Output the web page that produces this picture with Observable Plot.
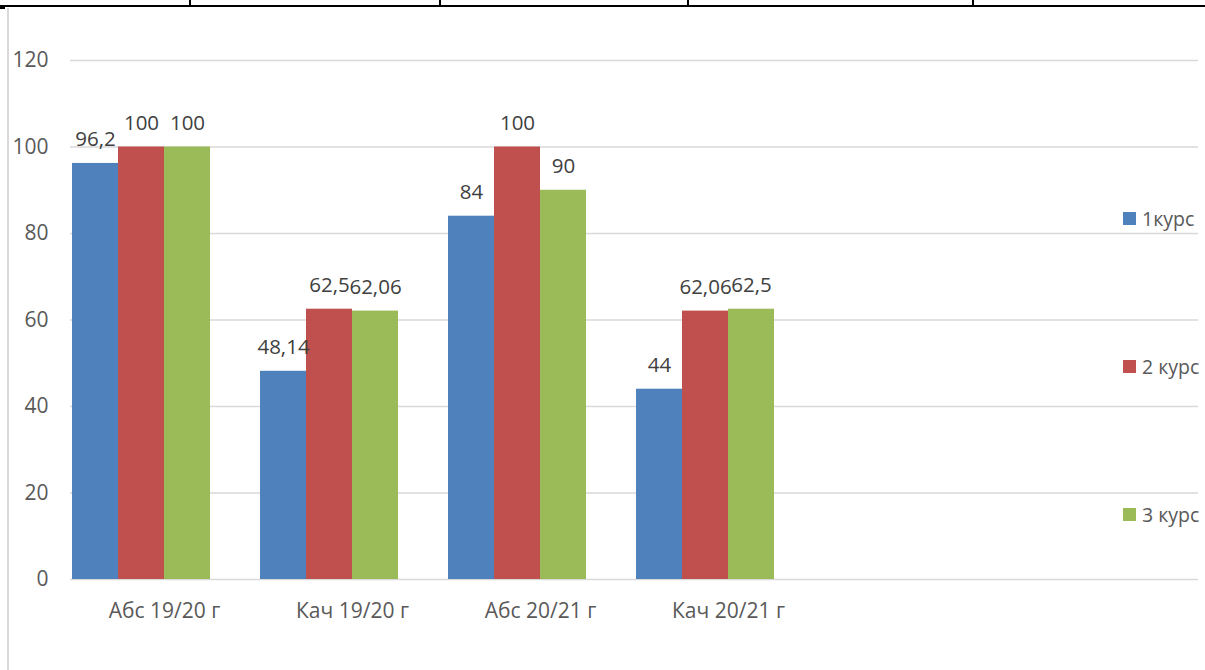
<!DOCTYPE html>
<html><head><meta charset="utf-8">
<script src="https://cdn.jsdelivr.net/npm/d3@7"></script>
<script src="https://cdn.jsdelivr.net/npm/@observablehq/plot@0.6"></script>
<style>
body{margin:0;background:#fff;font-family:"Open Sans",sans-serif;}
#wrap{position:relative;width:1205px;height:670px;overflow:hidden;}
.deco{position:absolute;}
.leg{position:absolute;left:1123px;font-size:19.5px;color:#595959;display:flex;align-items:center;white-space:nowrap;}
.leg i{display:inline-block;width:13px;height:13px;margin-right:6px;}
</style></head>
<body><div id="wrap">
<div class="deco" style="left:0;top:5px;width:1205px;height:2px;background:#000"></div>
<div class="deco" style="left:189px;top:0;width:2px;height:6px;background:#000"></div>
<div class="deco" style="left:439px;top:0;width:2px;height:6px;background:#000"></div>
<div class="deco" style="left:687px;top:0;width:2px;height:6px;background:#000"></div>
<div class="deco" style="left:972px;top:0;width:2px;height:6px;background:#000"></div>
<div class="deco" style="left:0;top:7px;width:5px;height:2px;background:#000"></div>
<div class="deco" style="left:7px;top:8px;width:2px;height:662px;background:#d9d9d9"></div>
<div id="chart" class="deco" style="left:0;top:0"></div>
<div id="legend"></div>
</div>
<script>
const categories = ["Абс 19/20 г", "Кач 19/20 г", "Абс 20/21 г", "Кач 20/21 г"];
const series = ["1курс", "2 курс", "3 курс"];
const values1 = [96.2, 48.14, 84, 44];
const values2 = [100, 62.5, 100, 62.06];
const values3 = [100, 62.06, 90, 62.5];
const colors = ["#4f81bd", "#c0504d", "#9bbb59"];
const yTicks = [0, 20, 40, 60, 80, 100, 120];

const slots = [...categories, "_5", "_6"];
const seriesSlots = [...series, "_4"];
const allValues = [values1, values2, values3];
const data = [];
series.forEach((s, i) => categories.forEach((c, j) => data.push({cat: c, series: s, value: allValues[i][j]})));
const gridData = slots.flatMap(c => yTicks.map(y => ({cat: c, y})));
const fmt = v => String(v).replace(".", ",");

const chart = Plot.plot({
  width: 1205, height: 670,
  marginLeft: 70, marginRight: 7, marginTop: 60, marginBottom: 91,
  style: {fontFamily: "Open Sans, sans-serif", fontSize: "21px", color: "#595959", background: "transparent"},
  fx: {domain: slots, padding: 0, label: null, axis: null},
  x: {domain: seriesSlots, paddingInner: 0, paddingOuter: 0.04, axis: null},
  y: {domain: [0, 120], ticks: yTicks, label: null, axis: null},
  color: {domain: series, range: colors},
  marks: [
    Plot.ruleY(gridData, {fx: "cat", y: "y", stroke: "#d9d9d9", strokeWidth: 1.5}),
    Plot.barY(data, {fx: "cat", x: "series", y: "value", fill: "series"}),
    Plot.text(data, {fx: "cat", x: "series", y: "value", text: d => fmt(d.value), dy: -24, fill: "#404040", fontSize: 20.5}),
    Plot.axisY({ticks: yTicks, tickSize: 0, tickPadding: 22, label: null, fontSize: 21, fill: "#595959", facetAnchor: "left"}),
    Plot.axisFx({domain: slots, tickSize: 0, tickPadding: 24, label: null, fontSize: 21, fill: "#595959", anchor: "bottom",
      tickFormat: d => categories.includes(d) ? d : ""})
  ]
});
document.getElementById("chart").appendChild(chart);

const legTops = [219, 367, 515];
const leg = document.getElementById("legend");
series.forEach((s, i) => {
  const d = document.createElement("div");
  d.className = "leg";
  d.style.top = (legTops[i] - 14) + "px";
  d.innerHTML = `<i style="background:${colors[i]}"></i><span>${s}</span>`;
  leg.appendChild(d);
});
</script>
</body></html>
